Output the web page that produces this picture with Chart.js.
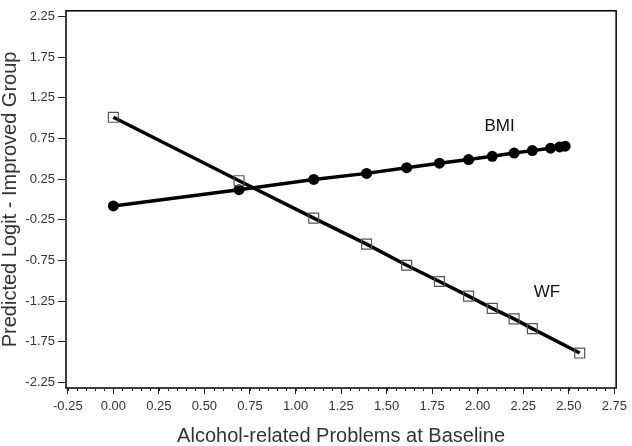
<!DOCTYPE html>
<html>
<head>
<meta charset="utf-8">
<script src="https://cdn.jsdelivr.net/npm/chart.js@4"></script>
<style>
  html, body { margin: 0; padding: 0; background: #fff; }
  #wrap { width: 632px; height: 446px; }
</style>
</head>
<body>
<div id="wrap"><canvas id="chart"></canvas></div>
<script>
// tick labels
const xTicks = [-0.25, 0, 0.25, 0.5, 0.75, 1, 1.25, 1.5, 1.75, 2, 2.25, 2.5, 2.75];
const yTicks = [-2.25, -1.75, -1.25, -0.75, -0.25, 0.25, 0.75, 1.25, 1.75, 2.25];

// WF series (open squares)
const wfX = [0, 0.69, 1.10, 1.39, 1.61, 1.79, 1.95, 2.08, 2.20, 2.30, 2.56];
const wfY = [1.01, 0.23, -0.23, -0.55, -0.81, -1.01, -1.19, -1.34, -1.47, -1.59, -1.89];

// BMI series (filled dots)
const bmiX = [0, 0.69, 1.10, 1.39, 1.61, 1.79, 1.95, 2.08, 2.20, 2.30, 2.40, 2.45, 2.48];
const bmiY = [-0.08, 0.12, 0.245, 0.32, 0.39, 0.445, 0.49, 0.53, 0.57, 0.60, 0.63, 0.645, 0.655];

const seriesNames = ['WF', 'BMI'];

function toPoints(xs, ys) {
  return xs.map((x, i) => ({ x: x, y: ys[i] }));
}

// where the series names sit, in data units
const nameLabels = [
  { text: 'BMI', x: 2.12, y: 0.9 },
  { text: 'WF', x: 2.38, y: -1.14 },
];

// box around the plot, minor x ticks and the series names
const framePlugin = {
  id: 'frame',
  afterDraw(chart) {
    const { ctx, chartArea: a, scales } = chart;
    ctx.save();
    ctx.strokeStyle = '#000';
    ctx.lineWidth = 1.5;
    ctx.strokeRect(a.left, a.top, a.right - a.left, a.bottom - a.top);

    // minor ticks every 0.05 under the x axis
    ctx.lineWidth = 1;
    ctx.strokeStyle = '#222';
    for (let k = 0; k <= 60; k++) {
      const v = -0.25 + k * 0.05;
      const px = Math.round(scales.x.getPixelForValue(v)) + 0.5;
      ctx.beginPath();
      ctx.moveTo(px, a.bottom);
      ctx.lineTo(px, a.bottom + 3);
      ctx.stroke();
    }

    ctx.fillStyle = '#111';
    ctx.font = '17px "Liberation Sans", Arial, sans-serif';
    ctx.textAlign = 'center';
    ctx.textBaseline = 'middle';
    nameLabels.forEach((l) => {
      ctx.fillText(l.text, scales.x.getPixelForValue(l.x), scales.y.getPixelForValue(l.y));
    });
    ctx.restore();
  },
};

const tickFont = { family: '"Liberation Sans", Arial, sans-serif', size: 13 };
const titleFont = { family: '"Liberation Sans", Arial, sans-serif', size: 20, lineHeight: 1 };

new Chart(document.getElementById('chart'), {
  type: 'scatter',
  data: {
    datasets: [
      {
        label: seriesNames[0],
        data: toPoints(wfX, wfY),
        showLine: true,
        borderColor: '#000',
        borderWidth: 3.5,
        pointStyle: 'rect',
        pointRadius: 7,
        pointBorderWidth: 1.2,
        pointBorderColor: '#555',
        pointBackgroundColor: 'rgba(0,0,0,0)',
      },
      {
        label: seriesNames[1],
        data: toPoints(bmiX, bmiY),
        showLine: true,
        borderColor: '#000',
        borderWidth: 3.5,
        pointStyle: 'circle',
        pointRadius: 5.5,
        pointBorderWidth: 0,
        pointBackgroundColor: '#000',
      },
    ],
  },
  options: {
    responsive: true,
    maintainAspectRatio: false,
    animation: false,
    layout: { padding: { top: 2, right: 9, left: 0, bottom: 0 } },
    plugins: {
      legend: { display: false },
      tooltip: { enabled: false },
    },
    scales: {
      x: {
        type: 'linear',
        min: -0.26,
        max: 2.76,
        afterBuildTicks: (scale) => {
          scale.ticks = xTicks.map((v) => ({ value: v }));
        },
        afterFit: (scale) => {
          scale.height = 58;
        },
        border: { display: false },
        grid: { drawOnChartArea: false, drawTicks: true, tickLength: 6, color: '#222' },
        ticks: {
          color: '#333',
          font: tickFont,
          padding: 5,
          maxRotation: 0,
          callback: (v) => Number(v).toFixed(2),
        },
        title: {
          display: true,
          text: 'Alcohol-related Problems at Baseline',
          color: '#333',
          font: titleFont,
          padding: { top: 0, bottom: 0 },
        },
      },
      y: {
        type: 'linear',
        min: -2.32,
        max: 2.32,
        afterBuildTicks: (scale) => {
          scale.ticks = yTicks.map((v) => ({ value: v }));
        },
        afterFit: (scale) => {
          scale.width = 66;
        },
        border: { display: false },
        grid: { drawOnChartArea: false, drawTicks: true, tickLength: 8, color: '#222' },
        ticks: {
          color: '#333',
          font: tickFont,
          padding: 3,
          callback: (v) => Number(v).toFixed(2),
        },
        title: {
          display: true,
          text: 'Predicted Logit - Improved Group',
          color: '#333',
          font: titleFont,
          padding: { top: 0, bottom: 0 },
        },
      },
    },
  },
  plugins: [framePlugin],
});
</script>
</body>
</html>
